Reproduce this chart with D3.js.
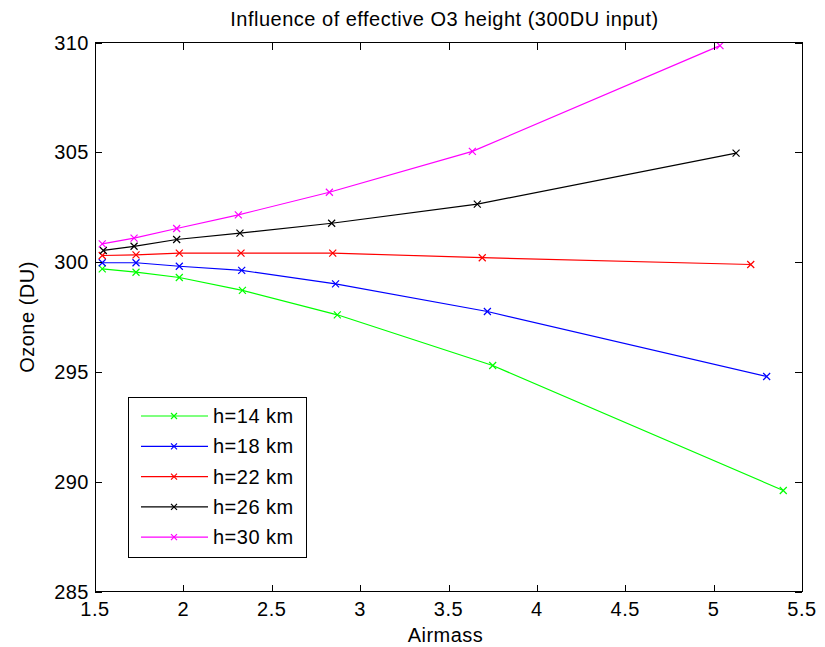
<!DOCTYPE html>
<html>
<head>
<meta charset="utf-8">
<script src="https://cdn.jsdelivr.net/npm/d3@7"></script>
<style>
  html, body { margin: 0; padding: 0; background: #fff; }
  svg text { font-family: "Liberation Sans", Arial, Helvetica, sans-serif; fill: #000; letter-spacing: 0.5px; }
</style>
</head>
<body>
<svg id="chart" width="825" height="647"></svg>
<script>
// ---- data ----
const seriesNames = ["h=14 km", "h=18 km", "h=22 km", "h=26 km", "h=30 km"];
const seriesColors = ["#00ff00", "#0000ff", "#ff0000", "#000000", "#ff00ff"];

const airmass14 = [1.541, 1.732, 1.977, 2.334, 2.871, 3.750, 5.394];
const ozone14   = [299.69, 299.54, 299.30, 298.71, 297.60, 295.29, 289.60];

const airmass18 = [1.541, 1.732, 1.977, 2.330, 2.861, 3.720, 5.300];
const ozone18   = [299.97, 299.97, 299.81, 299.62, 299.01, 297.75, 294.79];

const airmass22 = [1.541, 1.732, 1.977, 2.326, 2.845, 3.691, 5.210];
const ozone22   = [300.30, 300.33, 300.41, 300.41, 300.41, 300.20, 299.89];

const airmass26 = [1.547, 1.721, 1.962, 2.320, 2.839, 3.663, 5.127];
const ozone26   = [300.53, 300.72, 301.03, 301.32, 301.77, 302.64, 304.96];

const airmass30 = [1.541, 1.721, 1.962, 2.311, 2.826, 3.635, 5.036];
const ozone30   = [300.83, 301.09, 301.53, 302.15, 303.18, 305.04, 309.86];

const xTicks = [1.5, 2, 2.5, 3, 3.5, 4, 4.5, 5, 5.5];
const yTicks = [285, 290, 295, 300, 305, 310];

const titleText = "Influence of effective O3 height (300DU input)";
const xLabel = "Airmass";
const yLabel = "Ozone (DU)";

const allX = [airmass14, airmass18, airmass22, airmass26, airmass30];
const allY = [ozone14, ozone18, ozone22, ozone26, ozone30];
const series = seriesNames.map((name, i) => ({
  name, color: seriesColors[i],
  points: allX[i].map((x, j) => ({ x, y: allY[i][j] }))
}));

// ---- layout ----
const pL = 95, pR = 802, pT = 42.5, pB = 591.5;
const svg = d3.select("#chart");
const x = d3.scaleLinear().domain([1.5, 5.5]).range([pL, pR]);
const y = d3.scaleLinear().domain([285, 310]).range([pB, pT]);
const fs = 20;
const tickLen = 7;

// series
const line = d3.line().x(d => x(d.x)).y(d => y(d.y));
const plot = svg.append("g");
series.forEach(s => {
  plot.append("path").datum(s.points)
    .attr("d", line).attr("fill", "none")
    .attr("stroke", s.color).attr("stroke-width", 1.2);
  const m = 3.5;
  plot.selectAll(null).data(s.points).enter().append("path")
    .attr("d", d => {
      const cx = x(d.x), cy = y(d.y);
      return `M${cx-m},${cy-m}L${cx+m},${cy+m}M${cx-m},${cy+m}L${cx+m},${cy-m}`;
    })
    .attr("stroke", s.color).attr("stroke-width", 1.2).attr("fill", "none");
});

// axes frame
const axes = svg.append("g").attr("shape-rendering", "crispEdges");
axes.append("rect").attr("x", pL).attr("y", pT)
  .attr("width", pR - pL).attr("height", pB - pT)
  .attr("fill", "none").attr("stroke", "#000").attr("stroke-width", 1);

// x ticks (inside, bottom and top)
xTicks.forEach(t => {
  const px = Math.round(x(t)) + 0.5;
  axes.append("line").attr("x1", px).attr("x2", px).attr("y1", pB).attr("y2", pB - tickLen).attr("stroke", "#000");
  axes.append("line").attr("x1", px).attr("x2", px).attr("y1", pT).attr("y2", pT + tickLen).attr("stroke", "#000");
  svg.append("text").attr("x", x(t)).attr("y", pB + 24)
    .attr("text-anchor", "middle").attr("font-size", fs).text(t);
});
// y ticks (inside, left and right)
yTicks.forEach(t => {
  const py = Math.round(y(t)) + 0.5;
  axes.append("line").attr("x1", pL).attr("x2", pL + tickLen).attr("y1", py).attr("y2", py).attr("stroke", "#000");
  axes.append("line").attr("x1", pR).attr("x2", pR - tickLen).attr("y1", py).attr("y2", py).attr("stroke", "#000");
  svg.append("text").attr("x", pL - 6).attr("y", y(t) + 7)
    .attr("text-anchor", "end").attr("font-size", fs).text(t);
});

// title and labels
svg.append("text").attr("x", (pL + pR) / 2 - 4).attr("y", 26)
  .attr("text-anchor", "middle").attr("font-size", fs).text(titleText);
svg.append("text").attr("x", (pL + pR) / 2 - 3).attr("y", 642)
  .attr("text-anchor", "middle").attr("font-size", fs).text(xLabel);
svg.append("text").attr("transform", `translate(34,${(pT + pB) / 2}) rotate(-90)`)
  .attr("text-anchor", "middle").attr("font-size", fs).text(yLabel);

// legend
const lg = svg.append("g");
lg.append("rect").attr("x", 128.5).attr("y", 397.5).attr("width", 178).attr("height", 160)
  .attr("fill", "#fff").attr("stroke", "#000").attr("stroke-width", 1).attr("shape-rendering", "crispEdges");
series.forEach((s, i) => {
  const cy = 416 + i * 30.3;
  lg.append("line").attr("x1", 141).attr("x2", 208).attr("y1", cy).attr("y2", cy)
    .attr("stroke", s.color).attr("stroke-width", 1.2);
  const m = 3, cx = 174;
  lg.append("path").attr("d", `M${cx-m},${cy-m}L${cx+m},${cy+m}M${cx-m},${cy+m}L${cx+m},${cy-m}`)
    .attr("stroke", s.color).attr("stroke-width", 1.2);
  lg.append("text").attr("x", 213).attr("y", cy + 7).attr("font-size", fs).text(s.name);
});
</script>
</body>
</html>
